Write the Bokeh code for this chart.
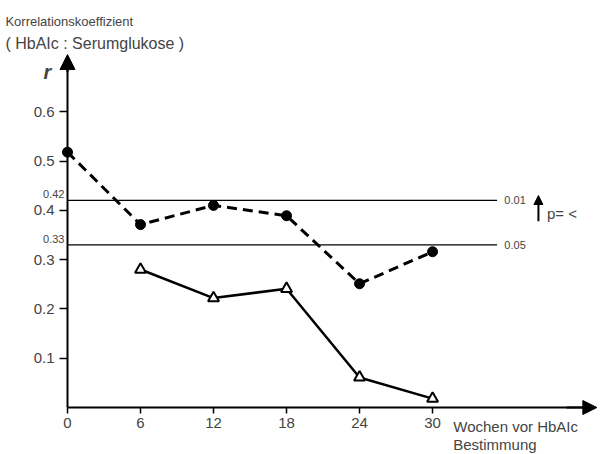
from bokeh.plotting import figure
from bokeh.models import LinearAxis, FixedTicker, Arrow, NormalHead, Label, Range1d
from bokeh.embed import file_html
from bokeh.resources import INLINE

# ---- data ----
weeks_serum = [0, 6, 12, 18, 24, 30]
r_serum = [0.518, 0.371, 0.41, 0.389, 0.251, 0.316]
weeks_tri = [6, 12, 18, 24, 30]
r_tri = [0.28, 0.222, 0.241, 0.061, 0.018]
thresholds = [0.42, 0.33]
threshold_labels = ["0.42", "0.33"]
p_levels = ["0.01", "0.05"]
x_ticks = [0, 6, 12, 18, 24, 30]
y_ticks = [0.1, 0.2, 0.3, 0.4, 0.5, 0.6]
y_tick_labels = ["0.1", "0.2", "0.3", "0.4", "0.5", "0.6"]

FONT = "Liberation Sans"

p = figure(width=600, height=454, x_range=Range1d(-5.505, 43.80), y_range=Range1d(-0.0953, 0.8256),
           output_backend="svg", toolbar_location=None,
           x_axis_type=None, y_axis_type=None,
           min_border_left=0, min_border_right=0, min_border_top=0, min_border_bottom=0)
p.outline_line_color = None
p.background_fill_color = "white"
p.border_fill_color = "white"

yax = LinearAxis(ticker=FixedTicker(ticks=y_ticks), bounds=(0, 0.70), fixed_location=0,
                 axis_line_width=2, major_tick_out=8, major_tick_in=0,
                 minor_tick_out=0, minor_tick_in=0, major_tick_line_width=1.5,
                 major_label_text_font=FONT, major_label_text_font_size="15px",
                 major_label_standoff=5,
                 major_label_overrides={t: l for t, l in zip(y_ticks, y_tick_labels)})
p.add_layout(yax, "left")
xax = LinearAxis(ticker=FixedTicker(ticks=x_ticks), bounds=(0, 42.5), fixed_location=0,
                 axis_line_width=2, major_tick_out=6, major_tick_in=0,
                 minor_tick_out=0, minor_tick_in=0, major_tick_line_width=1.5,
                 major_label_text_font=FONT, major_label_text_font_size="15px",
                 major_label_standoff=4)
p.add_layout(xax, "below")

# axis arrows
p.add_layout(Arrow(end=NormalHead(size=14, fill_color="black", line_color="black"),
                   x_start=41, y_start=0, x_end=43.5, y_end=0, line_width=2))
p.add_layout(Arrow(end=NormalHead(size=15, fill_color="black", line_color="black"),
                   x_start=0, y_start=0.68, x_end=0, y_end=0.716, line_width=2))

# significance lines
p.segment(x0=[0] * len(thresholds), x1=[35.3] * len(thresholds), y0=thresholds, y1=thresholds,
          line_color="black", line_width=1.2)
for t, lab, pl in zip(thresholds, threshold_labels, p_levels):
    p.add_layout(Label(x=-0.25, y=t + 0.004, text=lab, text_align="right", text_baseline="bottom",
                       text_font=FONT, text_font_size="11px"))
    p.add_layout(Label(x=35.9, y=t, text=pl, text_align="left", text_baseline="middle",
                       text_font=FONT, text_font_size="11px"))
p.add_layout(Arrow(end=NormalHead(size=9, fill_color="black", line_color="black"),
                   x_start=38.7, y_start=0.378, x_end=38.7, y_end=0.43, line_width=2))
p.add_layout(Label(x=39.4, y=0.394, text="p= <", text_align="left", text_baseline="middle",
                   text_font=FONT, text_font_size="15px"))

# series
p.line(weeks_serum, r_serum, line_color="black", line_width=3, line_dash="10 6")
p.scatter(weeks_serum, r_serum, marker="circle", size=10, fill_color="black", line_color="black")
p.line(weeks_tri, r_tri, line_color="black", line_width=2.5)
p.scatter(weeks_tri, r_tri, marker="triangle", size=11, fill_color="white", line_color="black",
          line_width=2)

# titles
p.add_layout(Label(x=-5.1, y=0.782, text="Korrelationskoeffizient", text_baseline="alphabetic",
                   text_font=FONT, text_font_size="13px"))
p.add_layout(Label(x=-5.1, y=0.738, text="( HbAIc : Serumglukose )", text_baseline="alphabetic",
                   text_font=FONT, text_font_size="16px"))
p.add_layout(Label(x=-1.97, y=0.68, text="r", text_baseline="alphabetic", text_font=FONT,
                   text_font_size="20px", text_font_style="bold italic"))
p.add_layout(Label(x=31.7, y=-0.038, text="Wochen vor HbAIc", text_baseline="alphabetic",
                   text_font=FONT, text_font_size="15px"))
p.add_layout(Label(x=31.7, y=-0.076, text="Bestimmung", text_baseline="alphabetic",
                   text_font=FONT, text_font_size="15px"))

open("out.html", "w").write(file_html(p, INLINE))
